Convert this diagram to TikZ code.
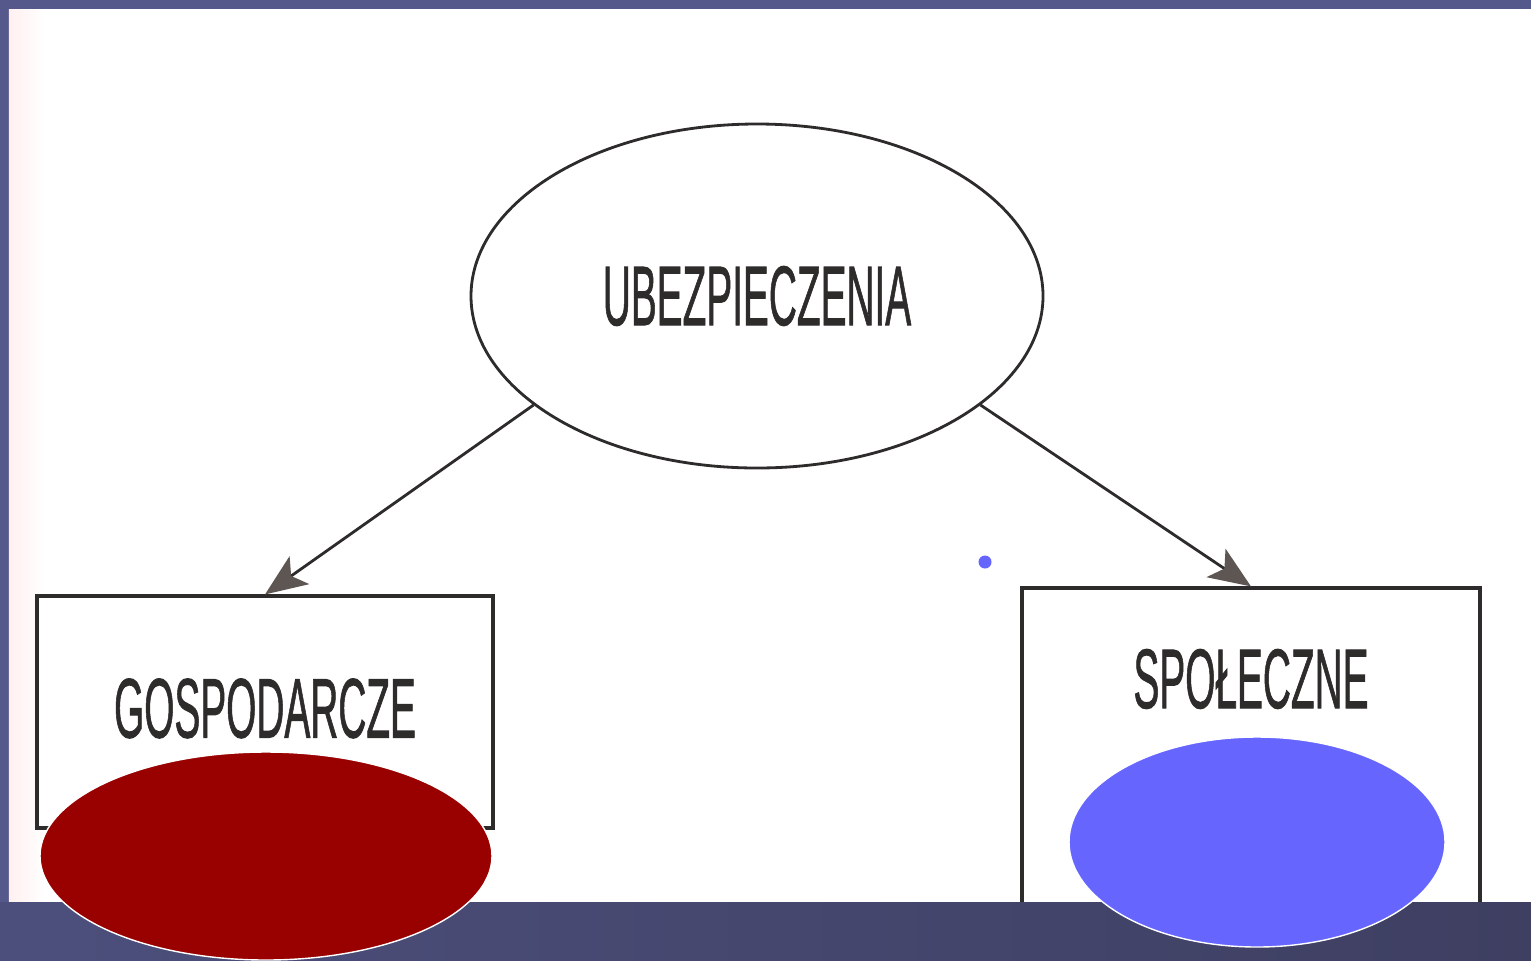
\documentclass[tikz,border=0pt]{standalone}
\usepackage{fontspec}
\usepackage{graphicx}
\setmainfont{Liberation Sans}
\newfontfamily\labelfont[FakeBold=1.3]{Liberation Sans}
\usetikzlibrary{arrows.meta}
\usetikzlibrary{positioning}
\usetikzlibrary{shapes.geometric}

\definecolor{slide}{HTML}{55588A}
\definecolor{slidedark}{HTML}{3E3F61}
\definecolor{ink}{HTML}{2E2B2B}
\definecolor{tipgray}{HTML}{5E5652}
\definecolor{blobred}{HTML}{990000}
\definecolor{blobblue}{HTML}{6666FF}

\newcommand{\cond}[1]{\scalebox{0.46}[1]{\fontsize{24}{28}\labelfont #1}}

\begin{document}
\begin{tikzpicture}
    [ovl/.style={ellipse, draw=ink, thick, fill=white, inner sep=0pt, minimum width=5.72cm, minimum height=3.44cm, text=ink},
     catbox/.style={rectangle, draw=ink, line width=0.9pt, fill=white, inner sep=0pt},
     lbl/.style={text=ink, inner sep=0pt},
     blob/.style={ellipse, draw=white, thin, inner sep=0pt},
     arr/.style={draw=ink, thick, -{Stealth[length=4.2mm, width=3.4mm, inset=1mm, color=tipgray]}}]

    \useasboundingbox (0,0) rectangle (15.31,9.6);
    \fill [slide] (0,0) rectangle (15.31,9.6);
    \fill [white] (0.09,0.58) rectangle (15.31,9.51);
    \shade [left color=red!6, right color=white] (0.09,0.58) rectangle (0.45,9.51);

    \node [ovl] (ub) at (7.57,6.64) {\cond{UBEZPIECZENIA}};
    \node [catbox, minimum width=4.56cm, minimum height=2.32cm, text=ink] (gosp) at (2.65,2.48) {\raisebox{0.8mm}{\cond{GOSPODARCZE}}};
    \node [catbox, minimum width=4.58cm, minimum height=3.72cm] (spol) at (12.51,1.86) {};
    \node [lbl, below=0.62cm of spol.north] (spoltxt) {\cond{SPOŁECZNE}};

    \draw [arr] (ub.206) -- (gosp.north);
    \draw [arr] (ub.334) -- (spol.north);

    \fill [blobblue] (9.85,3.98) circle (0.065);

    % bottom band of the slide
    \shade [left color=slide!90!black, right color=slidedark] (0,0) rectangle (15.31,0.58);

    \node [blob, fill=blobred, minimum width=4.52cm, minimum height=2.08cm] (red) at (2.66,1.04) {};
    \node [blob, fill=blobblue, minimum width=3.76cm, minimum height=2.10cm] (blue) at (12.57,1.18) {};
\end{tikzpicture}
\end{document}
